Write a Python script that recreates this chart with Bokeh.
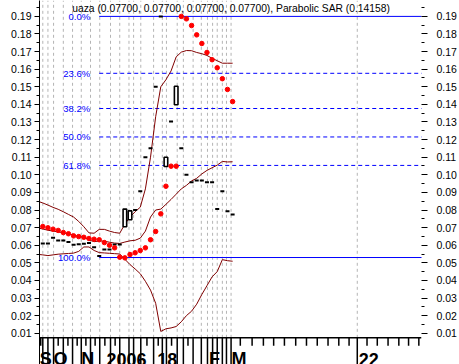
from bokeh.plotting import figure
from bokeh.models import Range1d, LinearAxis, FixedTicker, NumeralTickFormatter
from bokeh.core.properties import value
from bokeh.embed import file_html
from bokeh.resources import INLINE

FONT = "Liberation Sans"

# ---- data (x = bar number) ----
band_x = list(range(-1, 38))
upper = [0.0850, 0.0840, 0.0828, 0.0815, 0.0804, 0.0790, 0.0775, 0.0760, 0.0735, 0.0705,
         0.0670, 0.0668, 0.0690, 0.0690, 0.0680, 0.0672, 0.0668, 0.0720, 0.0760, 0.0790,
         0.0816, 0.0920, 0.1100, 0.1330, 0.1500, 0.1540, 0.1590, 0.1670, 0.1697, 0.1706,
         0.1705, 0.1695, 0.1688, 0.1678, 0.1662, 0.1648, 0.1634, 0.1634, 0.1634]
middle = [0.0698, 0.0692, 0.0685, 0.0680, 0.0676, 0.0670, 0.0664, 0.0657, 0.0650, 0.0646,
          0.0630, 0.0620, 0.0624, 0.0623, 0.0617, 0.0612, 0.0610, 0.0618, 0.0625, 0.0628,
          0.0640, 0.0680, 0.0760, 0.0800, 0.0805, 0.0832, 0.0860, 0.0890, 0.0920, 0.0940,
          0.0965, 0.0980, 0.1005, 0.1025, 0.1040, 0.1055, 0.1076, 0.1073, 0.1074]
lower = [0.0548, 0.0545, 0.0541, 0.0545, 0.0549, 0.0551, 0.0553, 0.0555, 0.0565, 0.0590,
         0.0590, 0.0570, 0.0558, 0.0556, 0.0554, 0.0552, 0.0550, 0.0520, 0.0490, 0.0465,
         0.0438, 0.0395, 0.0345, 0.0270, 0.0110, 0.0125, 0.0130, 0.0138, 0.0165, 0.0200,
         0.0225, 0.0265, 0.0320, 0.0370, 0.0420, 0.0450, 0.0518, 0.0512, 0.0509]

sar_x = list(range(0, 38))
sar = [0.0706, 0.0699, 0.0691, 0.0684, 0.0672, 0.0665, 0.0653, 0.0649, 0.0645, 0.0638,
       0.0634, 0.0631, 0.0615, 0.0600, 0.0585,
       0.0532, 0.0528, 0.0547, 0.0557, 0.0570, 0.0585, 0.0631, 0.0678, 0.0778, 0.0935,
       0.1049, 0.1049,
       0.1900, 0.1886, 0.1848, 0.1795, 0.1746, 0.1695, 0.1654, 0.1608, 0.1546, 0.1485, 0.1416]

close_x = [0, 1, 2, 3, 4, 5, 6, 7, 8, 9, 10, 11, 12, 13, 14, 15, 18, 19, 20, 21, 22, 23,
           25, 27, 28, 29, 30, 31, 32, 33, 34, 35, 36, 37]
close = [0.0610, 0.0610, 0.0642, 0.0627, 0.0627, 0.0618, 0.0603, 0.0605, 0.0608, 0.0612,
         0.0589, 0.0538, 0.0576, 0.0576, 0.0604, 0.0604, 0.0800, 0.0907, 0.1100, 0.1151,
         0.1500, 0.1900, 0.1303, 0.1151, 0.1000, 0.0958, 0.0968, 0.0968, 0.0958, 0.0958,
         0.0805, 0.0907, 0.0793, 0.0775]

candle_x = [16, 17, 24, 26]
candle_lo = [0.0705, 0.0745, 0.1047, 0.1398]
candle_hi = [0.0805, 0.0795, 0.1100, 0.1503]

fib_high = 0.19
fib_low = 0.053
fib_anchor = 11
fib_pcts = [0.0, 23.6, 38.2, 50.0, 61.8, 100.0]
fib_texts = ["0.0%", "23.6%", "38.2%", "50.0%", "61.8%", "100.0%"]

grid_x = [0.0, 1.0, 2.1, 4.0, 5.8, 7.5, 9.3, 11.1, 13.2, 15.0, 16.8, 17.7, 19.1, 21.6,
          23.3, 24.1, 26.2, 27.4, 29.3, 30.9, 32.1, 33.1, 34.0, 35.0, 35.8, 36.7, 61.3]
minor_x = [-0.4, 3.0, 4.9, 6.7, 8.4, 10.2, 12.1, 14.1, 20.3, 22.5, 25.1, 28.3,
           38.5, 40.8, 43.0, 45.0, 47.1, 49.3, 51.4, 53.5, 55.6, 57.7, 59.7, 63.2, 65.2,
           67.3, 69.4, 71.3, 73.3]
x_labels = ["S", "O", "N", "2006", "18", "F", "M", "22"]
x_label_at = [-0.6, 2.1, 7.5, 12.4, 22.3, 32.4, 36.8, 61.6]

y_ticks = [0.01, 0.02, 0.03, 0.04, 0.05, 0.06, 0.07, 0.08, 0.09, 0.10,
           0.11, 0.12, 0.13, 0.14, 0.15, 0.16, 0.17, 0.18, 0.19]
y_minor = [t + 0.005 for t in y_ticks]

title_text = "uaza (0.07700, 0.07700, 0.07700, 0.07700), Parabolic SAR (0.14158)"

# ---- figure: frame covers the time-axis strip too ----
Y_TOP = 0.19903
Y_BOTTOM = -0.00778
Y_AXIS = 0.00739          # where the time axis line sits
TICK_MINOR_END = 0.00285  # short tick length below the axis
X0, X1 = -0.643, 73.82

p = figure(width=459, height=364, output_backend="svg", toolbar_location=None,
           x_range=Range1d(X0, X1), y_range=Range1d(Y_BOTTOM, Y_TOP),
           min_border_left=39, min_border_right=38, min_border_top=0, min_border_bottom=0,
           title_location=None, outline_line_color=None, x_axis_location=None,
           background_fill_color="white", border_fill_color="white")

yt = FixedTicker(ticks=y_ticks, minor_ticks=y_minor)
fmt = NumeralTickFormatter(format="0.00")
ax = p.yaxis[0]
ax.ticker = yt
ax.formatter = fmt
ax.major_tick_out = 5
ax.major_tick_in = 0
ax.minor_tick_out = 3
ax.minor_tick_in = 0
ax.major_label_standoff = 3
ax.major_label_text_font = FONT
ax.major_label_text_font_size = "10.5px"
ax.major_label_text_color = "black"
ax.axis_line_color = "black"

rax = LinearAxis(ticker=yt, formatter=fmt)
rax.major_tick_out = 6
rax.major_tick_in = 0
rax.minor_tick_out = 3
rax.minor_tick_in = 0
rax.major_label_standoff = 9
rax.major_label_text_font = FONT
rax.major_label_text_font_size = "10.5px"
rax.major_label_text_color = "black"
rax.axis_line_color = None
p.add_layout(rax, "right")

p.xgrid.visible = False
p.ygrid.visible = False

# time axis drawn inside the frame
n_g = len(grid_x)
n_m = len(minor_x)
p.segment(x0=grid_x, x1=grid_x, y0=[Y_AXIS] * n_g, y1=[Y_TOP] * n_g,
          line_color="#b4b4b4", line_width=1, line_dash="3 3")
p.segment(x0=grid_x, x1=grid_x, y0=[Y_AXIS] * n_g, y1=[Y_BOTTOM] * n_g,
          line_color="black", line_width=1.5)
p.segment(x0=minor_x, x1=minor_x, y0=[Y_AXIS] * n_m, y1=[TICK_MINOR_END] * n_m,
          line_color="black", line_width=1.5)
p.segment(x0=[X0], x1=[X1], y0=[Y_AXIS], y1=[Y_AXIS], line_color="black", line_width=1.5)
p.text(x=x_label_at, y=[-0.0048] * len(x_labels), text=x_labels, text_align="left",
       text_baseline="alphabetic", text_font=value(FONT), text_font_size="18px",
       text_font_style="bold", text_color="black")

# fibonacci lines
levels = [fib_high - (fib_high - fib_low) * pc / 100.0 for pc in fib_pcts]
x_end = 80
solid = [0, 5]
dashed = [1, 2, 3, 4]
p.segment(x0=[fib_anchor] * 2, x1=[x_end] * 2, y0=[levels[i] for i in solid],
          y1=[levels[i] for i in solid], line_color="#0000ff", line_width=1)
p.segment(x0=[fib_anchor] * 4, x1=[x_end] * 4, y0=[levels[i] for i in dashed],
          y1=[levels[i] for i in dashed], line_color="#0000ff", line_width=1, line_dash="4 3")
p.text(x=[fib_anchor] * 6, y=levels, text=fib_texts, x_offset=-9,
       text_align="right", text_baseline="middle", text_color="#0000ff",
       text_font=value(FONT), text_font_size="9.5px")

# bands
for series in (upper, middle, lower):
    p.line(band_x, series, line_color="#800000", line_width=1)

# price marks
p.rect(x=close_x, y=close, width=4, height=2, width_units="screen", height_units="screen",
       fill_color="black", line_color=None)
p.vbar(x=candle_x, bottom=candle_lo, top=candle_hi, width=0.7, fill_color="white",
       line_color="black", line_width=1.6)

# parabolic SAR
p.scatter(sar_x, sar, marker="circle", size=4.5, fill_color="#ff0000", line_color="#ff0000")

p.text(x=[5.73], y=[0.1945], text=[title_text], text_font=value(FONT), text_font_size="10.3px",
       text_baseline="middle", text_color="black")

open("out.html", "w").write(file_html(p, INLINE))
